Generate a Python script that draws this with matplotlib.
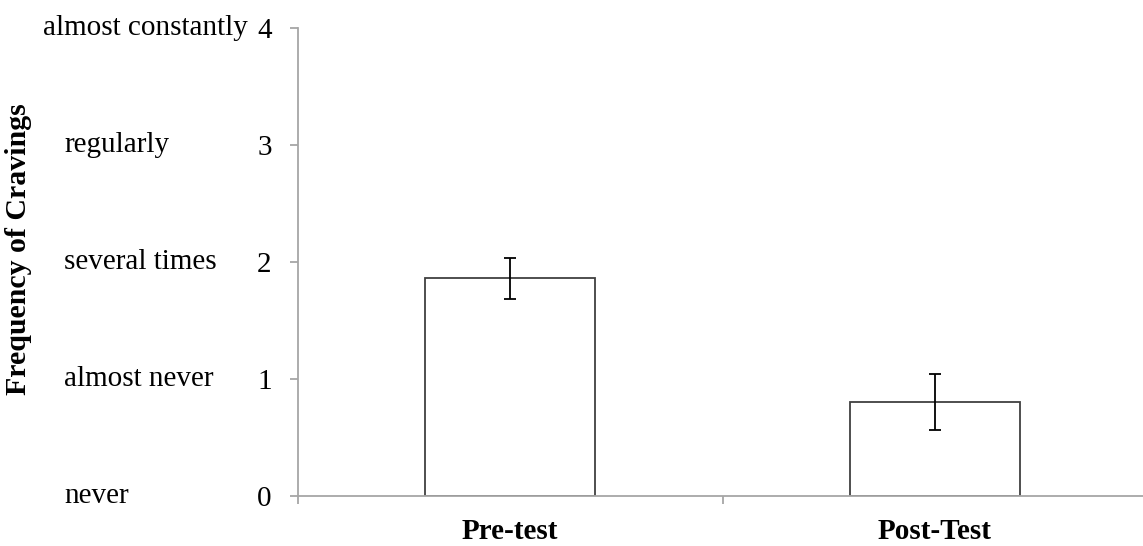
import matplotlib.pyplot as plt
from matplotlib.transforms import blended_transform_factory

# data
groups = ['Pre-test', 'Post-Test']
means = [1.86, 0.80]
errors = [0.175, 0.24]
y_ticks = [0, 1, 2, 3, 4]
level_names = ['never', 'almost never', 'several times', 'regularly', 'almost constantly']

plt.rcParams['font.family'] = ['Liberation Serif', 'DejaVu Serif']

fig = plt.figure(figsize=(11.43, 5.46), dpi=100)
ax = fig.add_axes([298 / 1143, 1 - 496 / 546, 849 / 1143, 468 / 546])

x = list(range(len(groups)))
ax.bar(x, means, width=0.4, color='white', edgecolor='#404040', linewidth=1.3, zorder=2)
ax.errorbar(x, means, yerr=errors, fmt='none', ecolor='black', elinewidth=1.3,
            capsize=4, capthick=1.3, zorder=3)

ax.set_xlim(-0.5, 1.5)
ax.set_ylim(0, 4)

# category ticks sit between the bars, labels under the bars
ax.set_xticks([-0.5, 0.5, 1.5])
ax.set_xticklabels([])
ax.set_xticks(x, minor=True)
ax.set_xticklabels(groups, minor=True, fontsize=21, fontweight='bold')
ax.tick_params(axis='x', which='minor', length=0, pad=16)
ax.tick_params(axis='x', which='major', length=6, width=1.3, color='#a6a6a6')

ax.set_yticks(y_ticks)
ax.set_yticklabels([str(t) for t in y_ticks], fontsize=21)
ax.tick_params(axis='y', length=6, width=1.3, color='#a6a6a6', pad=13)

for side in ['top', 'right']:
    ax.spines[side].set_visible(False)
for side in ['left', 'bottom']:
    ax.spines[side].set_color('#a6a6a6')
    ax.spines[side].set_linewidth(1.3)

# verbal anchors for the scale, left of the numbers
trans = blended_transform_factory(fig.transFigure, ax.transData)
for level, name in zip(y_ticks, level_names):
    xpos = 43 / 1143 if name == 'almost constantly' else 64 / 1143
    ax.text(xpos, level, name, transform=trans, ha='left', va='center',
            fontsize=21, clip_on=False)

fig.text(19 / 1143, 1 - 249 / 546, 'Frequency of Cravings', rotation=90,
         ha='center', va='center', fontsize=21.5, fontweight='bold')

fig.savefig('out.png', dpi=100)
